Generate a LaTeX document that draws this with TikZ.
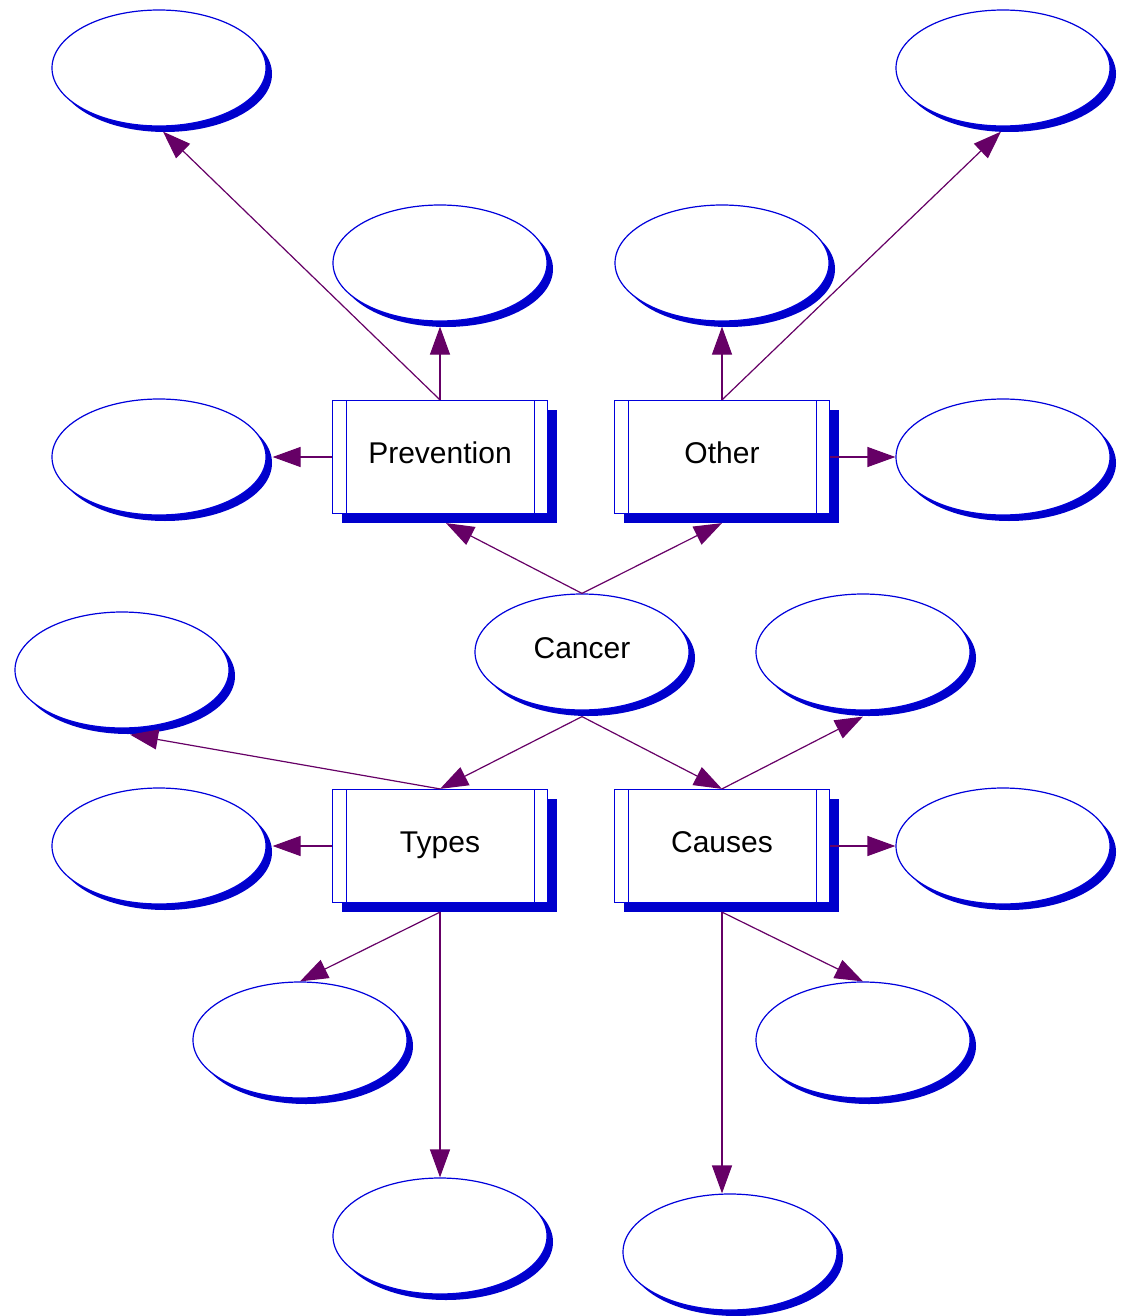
\documentclass[tikz,border=0pt]{standalone}
\usepackage{fontspec}
\setmainfont{Liberation Sans}
\usetikzlibrary{shapes.geometric,shadows,arrows.meta}
\definecolor{lineblue}{RGB}{0,0,220}
\definecolor{shadeblue}{RGB}{0,0,204}
\definecolor{arrowpurple}{RGB}{102,0,102}
\begin{document}
\begin{tikzpicture}[x=0.5pt,y=-0.5pt,
  bubble/.style={ellipse, draw=lineblue, line width=0.6pt, fill=white,
    minimum width=107pt, minimum height=58pt, inner sep=0pt,
    font=\fontsize{15}{18}\selectfont, text height=10pt, text depth=3.2pt,
    drop shadow={shadow xshift=3pt, shadow yshift=-3pt, fill=shadeblue, opacity=1}},
  boxnode/.style={rectangle, draw=lineblue, line width=0.6pt, fill=white,
    minimum width=107.5pt, minimum height=56.5pt, inner sep=0pt,
    font=\fontsize{15}{18}\selectfont, text height=10pt, text depth=3.2pt,
    drop shadow={shadow xshift=4.5pt, shadow yshift=-4.5pt, fill=shadeblue, opacity=1},
    path picture={\draw[lineblue, line width=0.6pt]
      ([xshift=7pt]path picture bounding box.north west) -- ([xshift=7pt]path picture bounding box.south west)
      ([xshift=-6.5pt]path picture bounding box.north east) -- ([xshift=-6.5pt]path picture bounding box.south east);}},
  link/.style={draw=arrowpurple, line width=0.6pt, -{Triangle[length=14pt,width=10pt]}}]
\useasboundingbox (0,0) rectangle (1132,1316);

% ellipses
\node[bubble] (e1) at (159,68) {};
\node[bubble] (e2) at (1003,68) {};
\node[bubble] (e3) at (440,263) {};
\node[bubble] (e4) at (722,263) {};
\node[bubble] (e5) at (159,457) {};
\node[bubble] (e6) at (1003,457) {};
\node[bubble] (cancer) at (582,652) {Cancer};
\node[bubble] (e8) at (122,670) {};
\node[bubble] (e9) at (863,652) {};
\node[bubble] (e10) at (159,846) {};
\node[bubble] (e11) at (1003,846) {};
\node[bubble] (e12) at (300,1040) {};
\node[bubble] (e13) at (863,1040) {};
\node[bubble] (e14) at (440,1236) {};
\node[bubble] (e15) at (730,1252) {};

% boxes
\node[boxnode] (prev) at (440,457) {Prevention};
\node[boxnode] (other) at (722,457) {Other};
\node[boxnode] (types) at (440,846) {Types};
\node[boxnode] (causes) at (722,846) {Causes};

% connectors
\draw[link] (prev.north) -- ([yshift=-2.5pt]e3.south);
\draw[link] (prev.north) -- ([xshift=2pt,yshift=-2.5pt]e1.south);
\draw[link] (prev.west) -- ([xshift=3pt]e5.east);
\draw[link] (other.north) -- ([yshift=-2.5pt]e4.south);
\draw[link] (other.north) -- ([xshift=-1pt,yshift=-2.5pt]e2.south);
\draw[link] (other.east) -- (e6.west);
\draw[link] (cancer.north) -- ([xshift=3pt,yshift=-4.5pt]prev.south);
\draw[link] (cancer.north) -- ([yshift=-4.5pt]other.south);
\draw[link] ([yshift=-3pt]cancer.south) -- (types.north);
\draw[link] ([yshift=-3pt]cancer.south) -- (causes.north);
\draw[link] (types.north) -- ([xshift=4pt,yshift=-3pt]e8.south);
\draw[link] (types.west) -- ([xshift=3pt]e10.east);
\draw[link] ([yshift=-4.5pt]types.south) -- (e12.north);
\draw[link] ([yshift=-4.5pt]types.south) -- (e14.north);
\draw[link] (causes.north) -- ([yshift=-3pt]e9.south);
\draw[link] (causes.east) -- (e11.west);
\draw[link] ([yshift=-4.5pt]causes.south) -- (e13.north);
\draw[link] ([yshift=-4.5pt]causes.south) -- (causes.south |- e15.north);
\end{tikzpicture}
\end{document}
